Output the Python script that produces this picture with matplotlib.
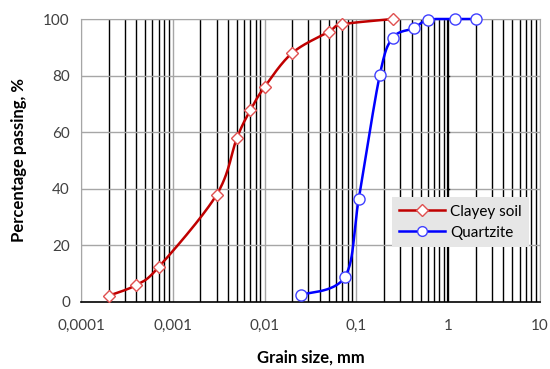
import numpy as np
import matplotlib
matplotlib.use('Agg')
import matplotlib.pyplot as plt
from matplotlib.lines import Line2D

# -------------------------
# Data
# -------------------------
clay_size = [0.0002, 0.0004, 0.0007, 0.003, 0.005, 0.007, 0.01, 0.02, 0.05, 0.07, 0.25]
clay_pass = [2.2, 6.0, 12.3, 37.9, 58.0, 67.8, 76.0, 88.0, 95.5, 98.1, 100.0]

quartz_size = [0.025, 0.075, 0.106, 0.18, 0.25, 0.425, 0.6, 1.18, 2.0]
quartz_pass = [2.5, 8.9, 36.3, 80.3, 93.4, 96.8, 99.7, 100.0, 100.0]

x_ticks = [0.0001, 0.001, 0.01, 0.1, 1, 10]
x_tick_labels = ['0,0001', '0,001', '0,01', '0,1', '1', '10']
y_ticks = [0, 20, 40, 60, 80, 100]

plt.rcParams['font.family'] = ['Lato', 'DejaVu Sans']


def smooth(xs, ys, n=30):
    # Excel-like smoothed line: cubic bezier in (log x, y) with catmull-rom controls
    lx = np.log10(xs)
    p = np.column_stack([lx, ys])
    pts = []
    for i in range(len(p) - 1):
        p0 = p[i - 1] if i > 0 else p[i]
        p1, p2 = p[i], p[i + 1]
        p3 = p[i + 2] if i + 2 < len(p) else p[i + 1]
        c1 = p1 + (p2 - p0) / 6.0
        c2 = p2 - (p3 - p1) / 6.0
        t = np.linspace(0, 1, n)[:, None]
        seg = ((1 - t) ** 3) * p1 + 3 * ((1 - t) ** 2) * t * c1 + 3 * (1 - t) * t ** 2 * c2 + t ** 3 * p2
        pts.append(seg if i == 0 else seg[1:])
    pts = np.vstack(pts)
    return 10 ** pts[:, 0], pts[:, 1]


fig = plt.figure(figsize=(5.5, 3.69), dpi=100)
ax = fig.add_axes([0.1473, 0.1816, 0.8345, 0.7669])

red = '#C00000'
blue = '#0000FF'

sx, sy = smooth(clay_size, clay_pass)
ax.plot(sx, sy, color=red, lw=1.8, zorder=4, clip_on=False)
ax.plot(clay_size, clay_pass, ls='none', marker='D', ms=6.5, mfc='white', mec='#E05050',
        mew=1.0, zorder=5, clip_on=False)

qx, qy = smooth(quartz_size, quartz_pass)
qy = np.minimum(qy, 100)
ax.plot(qx, qy, color=blue, lw=1.8, zorder=4, clip_on=False)
ax.plot(quartz_size, quartz_pass, ls='none', marker='o', ms=8, mfc='white', mec='#4040FF',
        mew=1.0, zorder=5, clip_on=False)

ax.set_xscale('log')
ax.set_xlim(0.0001, 10)
ax.set_ylim(0, 100)

ax.set_xticks(x_ticks)
ax.set_xticklabels(x_tick_labels)
ax.set_xticks([], minor=True)
ax.set_yticks(y_ticks)
ax.tick_params(axis='both', length=0, labelsize=11, colors='#404040')
ax.tick_params(axis='x', pad=12)
ax.tick_params(axis='y', pad=8)

# grid: minor decades black, decades and horizontals grey
for dec in x_ticks[:-1]:
    for m in range(2, 10):
        ax.axvline(dec * m, color='black', lw=1.0, zorder=1)
for xv in x_ticks:
    ax.axvline(xv, color='#A6A6A6', lw=1.0, zorder=1.5)
for yv in y_ticks[1:]:
    ax.axhline(yv, color='#A6A6A6', lw=1.0, zorder=1.2)

# vertical axis crossing at 1
ax.axvline(1, color='black', lw=1.6, zorder=2)
for yv in y_ticks[1:]:
    ax.plot([0.985, 1.015], [yv, yv], color='black', lw=1.0, zorder=2)

for s in ['left', 'top', 'right']:
    ax.spines[s].set_color('#A6A6A6')
ax.spines['bottom'].set_color('black')
ax.spines['bottom'].set_linewidth(1.2)

ax.set_xlabel('Grain size, mm', fontsize=12, fontweight='bold', labelpad=12)
ax.set_ylabel('Percentage passing, %', fontsize=12, fontweight='bold', labelpad=12)

handles = [
    Line2D([], [], color=red, lw=1.8, marker='D', ms=6, mfc='white', mec='#E05050'),
    Line2D([], [], color=blue, lw=1.8, marker='o', ms=7, mfc='white', mec='#4040FF'),
]
leg = ax.legend(handles, ['Clayey soil', 'Quartzite'], loc='lower right',
                bbox_to_anchor=(0.983, 0.183), fontsize=11, frameon=True, fancybox=False,
                handlelength=3.0, borderpad=0.5, labelspacing=0.45, handletextpad=0.3,
                borderaxespad=0.2)
leg.get_frame().set_facecolor('#E6E6E6')
leg.get_frame().set_edgecolor('none')
leg.get_frame().set_alpha(1)
leg.set_zorder(6)

fig.savefig('out.png', dpi=100)
